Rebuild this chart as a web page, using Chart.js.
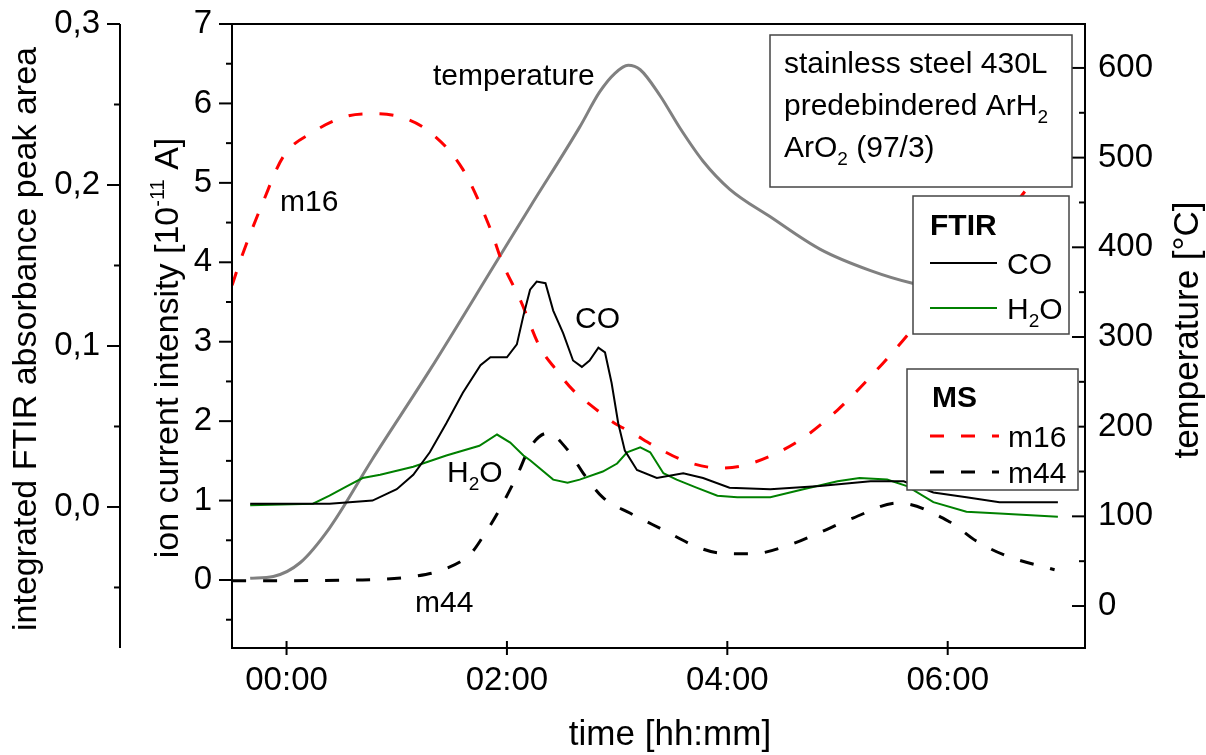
<!DOCTYPE html>
<html>
<head>
<meta charset="utf-8">
<script src="https://cdn.jsdelivr.net/npm/chart.js@4/dist/chart.umd.min.js"></script>
<style>
html,body{margin:0;padding:0;background:#fff;}
canvas{display:block;}
</style>
</head>
<body>
<canvas id="c" width="1206" height="755"></canvas>
<script>
// ---------- tick values & labels ----------
const timeTicks = [0, 2, 4, 6];
const timeTickLabels = ['00:00', '02:00', '04:00', '06:00'];
const ionTicks = [0, 1, 2, 3, 4, 5, 6, 7];
const ionTickLabels = ['0', '1', '2', '3', '4', '5', '6', '7'];
const ionMinorTicks = [-0.5, 0.5, 1.5, 2.5, 3.5, 4.5, 5.5, 6.5];
const ftirTicks = [0, 0.1, 0.2, 0.3];
const ftirTickLabels = ['0,0', '0,1', '0,2', '0,3'];
const ftirMinorTicks = [-0.05, 0.05, 0.15, 0.25];
const tempTicks = [0, 100, 200, 300, 400, 500, 600];
const tempTickLabels = ['0', '100', '200', '300', '400', '500', '600'];
const tempMinorTicks = [50, 150, 250, 350, 450, 550];

// axis limits
const timeRange = [-0.495, 7.246];
const ionRange = [-0.856, 7];
const ftirRange = [-0.0876, 0.3];
const tempRange = [-46.8, 649];

// ---------- series (time in hours) ----------
const tempTime   = [-0.33, -0.12, 0.12, 0.39, 0.78, 1.30, 1.91, 2.21, 2.66, 2.84, 2.98, 3.10, 3.21, 3.39, 3.57, 3.78, 4.02, 4.39, 4.84, 5.30, 5.68, 6.20, 6.60, 7.00];
const tempValues = [31, 33, 48, 87, 164, 263, 385, 445, 534, 573, 594, 603, 598, 569, 533, 496, 465, 434, 398, 374, 360, 350, 343, 337];

const m16Time   = [-0.494, -0.42, -0.21, -0.03, 0.24, 0.55, 0.78, 1.06, 1.30, 1.60, 1.85, 1.96, 2.12, 2.30, 2.45, 2.60, 2.78, 2.96, 3.14, 3.36, 3.63, 3.93, 4.14, 4.39, 4.69, 5.00, 5.30, 5.59, 6.71, 7.00];
const m16Values = [3.71, 4.02, 4.77, 5.33, 5.64, 5.84, 5.87, 5.82, 5.64, 5.17, 4.42, 3.99, 3.53, 2.93, 2.64, 2.39, 2.18, 1.99, 1.85, 1.67, 1.49, 1.41, 1.44, 1.56, 1.79, 2.14, 2.56, 3.01, 4.91, 5.48];

const m44Time   = [-0.494, 0.69, 1.18, 1.42, 1.67, 1.78, 1.91, 2.09, 2.21, 2.37, 2.55, 2.69, 2.87, 3.12, 3.42, 3.72, 3.93, 4.23, 4.54, 4.84, 5.14, 5.55, 6.02, 6.26, 6.54, 6.97];
const m44Values = [-0.01, 0.00, 0.05, 0.13, 0.33, 0.54, 0.83, 1.31, 1.67, 1.85, 1.64, 1.35, 1.04, 0.84, 0.63, 0.42, 0.34, 0.33, 0.43, 0.60, 0.78, 0.97, 0.73, 0.49, 0.30, 0.13];

const coTime   = [-0.33, 0.39, 0.78, 1.00, 1.15, 1.30, 1.45, 1.60, 1.76, 1.85, 2.00, 2.09, 2.15, 2.21, 2.27, 2.35, 2.42, 2.51, 2.60, 2.68, 2.75, 2.83, 2.89, 2.95, 3.01, 3.07, 3.18, 3.36, 3.60, 3.78, 4.02, 4.39, 4.84, 5.30, 5.60, 5.87, 6.17, 6.47, 7.00];
const coValues = [0.002, 0.002, 0.004, 0.011, 0.020, 0.034, 0.052, 0.071, 0.088, 0.093, 0.093, 0.101, 0.119, 0.135, 0.140, 0.139, 0.122, 0.108, 0.091, 0.087, 0.091, 0.099, 0.096, 0.077, 0.052, 0.035, 0.023, 0.018, 0.021, 0.018, 0.012, 0.011, 0.013, 0.016, 0.016, 0.009, 0.006, 0.003, 0.003];

const h2oTime   = [-0.33, 0.24, 0.39, 0.55, 0.69, 0.85, 1.15, 1.45, 1.75, 1.91, 2.03, 2.15, 2.21, 2.42, 2.55, 2.66, 2.87, 3.00, 3.09, 3.21, 3.30, 3.42, 3.54, 3.72, 3.91, 4.09, 4.39, 4.69, 5.00, 5.20, 5.45, 5.63, 5.87, 6.17, 6.47, 7.00];
const h2oValues = [0.001, 0.002, 0.007, 0.013, 0.018, 0.020, 0.025, 0.032, 0.038, 0.045, 0.040, 0.032, 0.029, 0.017, 0.015, 0.017, 0.022, 0.027, 0.034, 0.037, 0.034, 0.021, 0.017, 0.012, 0.007, 0.006, 0.006, 0.011, 0.016, 0.018, 0.017, 0.013, 0.003, -0.003, -0.004, -0.006];

// ---------- helpers ----------
const FONT = "'Liberation Sans', Arial, Helvetica, sans-serif";
const DASH = [14, 17];
function pts(t, v) { return t.map((x, i) => ({ x: x, y: v[i] })); }

function richWidth(ctx, parts) {
  let w = 0;
  for (const p of parts) { ctx.font = (p.b ? 'bold ' : '') + p.s + 'px ' + FONT; w += ctx.measureText(p.t).width; }
  return w;
}
function richDraw(ctx, parts, x, y) {
  let cx = x;
  for (const p of parts) {
    ctx.font = (p.b ? 'bold ' : '') + p.s + 'px ' + FONT;
    ctx.fillText(p.t, cx, y + (p.dy || 0));
    cx += ctx.measureText(p.t).width;
  }
}
function vTitle(ctx, parts, baseX, centerY) {
  ctx.save();
  ctx.translate(baseX, centerY);
  ctx.rotate(-Math.PI / 2);
  const w = richWidth(ctx, parts);
  richDraw(ctx, parts, -w / 2, 0);
  ctx.restore();
}
function seg(ctx, x1, y1, x2, y2) { ctx.beginPath(); ctx.moveTo(x1, y1); ctx.lineTo(x2, y2); ctx.stroke(); }

const deco = {
  id: 'deco',
  afterDraw(chart) {
    const ctx = chart.ctx, a = chart.chartArea;
    const sx = chart.scales.x, si = chart.scales.yIon, sf = chart.scales.yF, st = chart.scales.yT;
    ctx.save();
    ctx.strokeStyle = '#000';
    ctx.lineWidth = 2;
    ctx.setLineDash([]);
    // frame
    ctx.strokeRect(a.left, a.top, a.right - a.left, a.bottom - a.top);
    // FTIR axis line
    const fx = sf.right;
    seg(ctx, fx, a.top, fx, a.bottom);
    // ticks
    ionTicks.forEach(v => { const y = si.getPixelForValue(v); seg(ctx, a.left - 13, y, a.left, y); });
    ionMinorTicks.forEach(v => { const y = si.getPixelForValue(v); seg(ctx, a.left - 6, y, a.left, y); });
    ftirTicks.forEach(v => { const y = sf.getPixelForValue(v); seg(ctx, fx - 13, y, fx, y); });
    ftirMinorTicks.forEach(v => { const y = sf.getPixelForValue(v); seg(ctx, fx - 6, y, fx, y); });
    tempTicks.forEach(v => { const y = st.getPixelForValue(v); seg(ctx, a.right - 13, y, a.right, y); });
    tempMinorTicks.forEach(v => { const y = st.getPixelForValue(v); seg(ctx, a.right - 6, y, a.right, y); });
    timeTicks.forEach(v => { const x = sx.getPixelForValue(v); seg(ctx, x, a.bottom - 7, x, a.bottom + 7); });

    ctx.fillStyle = '#000';
    ctx.textBaseline = 'alphabetic';
    ctx.textAlign = 'left';
    // axis titles
    vTitle(ctx, [{ t: 'integrated FTIR absorbance peak area', s: 34 }], 36, 339);
    vTitle(ctx, [{ t: 'ion current intensity [10', s: 34 }, { t: '-11', s: 20, dy: -14 }, { t: ' A]', s: 34 }], 178, 348);
    vTitle(ctx, [{ t: 'temperature [\u00B0C]', s: 35 }], 1198, 330);
    ctx.font = '35px ' + FONT;
    ctx.textAlign = 'center';
    ctx.fillText('time [hh:mm]', 670, 745);
    ctx.textAlign = 'left';

    // in-plot annotations
    ctx.font = '30px ' + FONT;
    ctx.fillText('temperature', 433, 85);
    ctx.fillText('m16', 280, 211);
    ctx.fillText('CO', 575, 328);
    ctx.fillText('m44', 415, 612);
    richDraw(ctx, [{ t: 'H', s: 30 }, { t: '2', s: 19, dy: 8 }, { t: 'O', s: 30 }], 447, 482);

    // sample info box
    ctx.lineWidth = 1.5;
    ctx.strokeStyle = '#444';
    ctx.fillStyle = '#fff';
    ctx.fillRect(770, 35, 302, 152); ctx.strokeRect(770, 35, 302, 152);
    ctx.fillStyle = '#000';
    richDraw(ctx, [{ t: 'stainless steel 430L', s: 30 }], 784, 73);
    richDraw(ctx, [{ t: 'predebindered ArH', s: 30 }, { t: '2', s: 19, dy: 8 }], 784, 115);
    richDraw(ctx, [{ t: 'ArO', s: 30 }, { t: '2', s: 19, dy: 8 }, { t: ' (97/3)', s: 30 }], 784, 157);

    // FTIR legend
    ctx.fillStyle = '#fff';
    ctx.fillRect(913, 196, 156, 138); ctx.strokeRect(913, 196, 156, 138);
    ctx.fillStyle = '#000';
    richDraw(ctx, [{ t: 'FTIR', s: 30, b: true }], 930, 235);
    ctx.lineWidth = 2;
    ctx.strokeStyle = '#000'; seg(ctx, 930, 263, 997, 263);
    ctx.strokeStyle = '#008000'; seg(ctx, 930, 308, 997, 308);
    richDraw(ctx, [{ t: 'CO', s: 30 }], 1007, 274);
    richDraw(ctx, [{ t: 'H', s: 30 }, { t: '2', s: 19, dy: 8 }, { t: 'O', s: 30 }], 1007, 319);

    // MS legend
    ctx.lineWidth = 1.5;
    ctx.strokeStyle = '#444';
    ctx.fillStyle = '#fff';
    ctx.fillRect(907, 369, 171, 121); ctx.strokeRect(907, 369, 171, 121);
    ctx.fillStyle = '#000';
    richDraw(ctx, [{ t: 'MS', s: 30, b: true }], 932, 407);
    ctx.lineWidth = 3;
    ctx.setLineDash(DASH);
    ctx.strokeStyle = '#ff0000'; seg(ctx, 930, 436, 999, 436);
    ctx.strokeStyle = '#000'; seg(ctx, 930, 472, 999, 472);
    ctx.setLineDash([]);
    richDraw(ctx, [{ t: 'm16', s: 30 }], 1008, 447);
    richDraw(ctx, [{ t: 'm44', s: 30 }], 1008, 483);
    ctx.restore();
  }
};

const tickFont = { family: FONT, size: 33 };
// invisible grid: only reserves the gap between axis line and tick labels
function spacer(len) {
  return { display: true, drawOnChartArea: false, drawTicks: true, tickLength: len, color: 'rgba(0,0,0,0)', lineWidth: 0 };
}

new Chart(document.getElementById('c'), {
  type: 'line',
  data: {
    datasets: [
      { label: 'CO', data: pts(coTime, coValues), yAxisID: 'yF', borderColor: '#000000', borderWidth: 2, pointRadius: 0, tension: 0, fill: false },
      { label: 'H2O', data: pts(h2oTime, h2oValues), yAxisID: 'yF', borderColor: '#008000', borderWidth: 2, pointRadius: 0, tension: 0, fill: false },
      { label: 'm16', data: pts(m16Time, m16Values), yAxisID: 'yIon', borderColor: '#ff0000', borderWidth: 3, borderDash: DASH, pointRadius: 0, cubicInterpolationMode: 'monotone', fill: false },
      { label: 'm44', data: pts(m44Time, m44Values), yAxisID: 'yIon', borderColor: '#000000', borderWidth: 3, borderDash: DASH, pointRadius: 0, cubicInterpolationMode: 'monotone', fill: false },
      { label: 'temperature', data: pts(tempTime, tempValues), yAxisID: 'yT', borderColor: '#808080', borderWidth: 3, pointRadius: 0, cubicInterpolationMode: 'monotone', fill: false }
    ]
  },
  options: {
    responsive: false,
    animation: false,
    devicePixelRatio: 1,
    layout: { padding: { top: 24, left: 0, right: 0, bottom: 0 } },
    plugins: { legend: { display: false }, tooltip: { enabled: false } },
    scales: {
      x: {
        type: 'linear', position: 'bottom', min: timeRange[0], max: timeRange[1],
        grid: spacer(13), border: { display: false },
        afterBuildTicks: s => { s.ticks = timeTicks.map(v => ({ value: v })); },
        ticks: { callback: v => timeTickLabels[timeTicks.indexOf(v)], padding: 0, maxRotation: 0, autoSkip: false, font: tickFont, color: '#000' },
        afterFit: s => { s.height = 107; }
      },
      yF: {
        type: 'linear', position: 'left', weight: 2, min: ftirRange[0], max: ftirRange[1],
        grid: spacer(20), border: { display: false },
        afterBuildTicks: s => { s.ticks = ftirTicks.map(v => ({ value: v })); },
        ticks: { callback: v => ftirTickLabels[ftirTicks.indexOf(v)], padding: 0, font: tickFont, color: '#000' },
        afterFit: s => { s.width = 120; }
      },
      yIon: {
        type: 'linear', position: 'left', weight: 1, min: ionRange[0], max: ionRange[1],
        grid: spacer(20), border: { display: false },
        afterBuildTicks: s => { s.ticks = ionTicks.map(v => ({ value: v })); },
        ticks: { callback: v => ionTickLabels[ionTicks.indexOf(v)], padding: 0, font: tickFont, color: '#000' },
        afterFit: s => { s.width = 112; }
      },
      yT: {
        type: 'linear', position: 'right', min: tempRange[0], max: tempRange[1],
        grid: spacer(13), border: { display: false },
        afterBuildTicks: s => { s.ticks = tempTicks.map(v => ({ value: v })); },
        ticks: { callback: v => tempTickLabels[tempTicks.indexOf(v)], padding: 0, font: tickFont, color: '#000' },
        afterFit: s => { s.width = 121; }
      }
    }
  },
  plugins: [deco]
});
</script>
</body>
</html>
